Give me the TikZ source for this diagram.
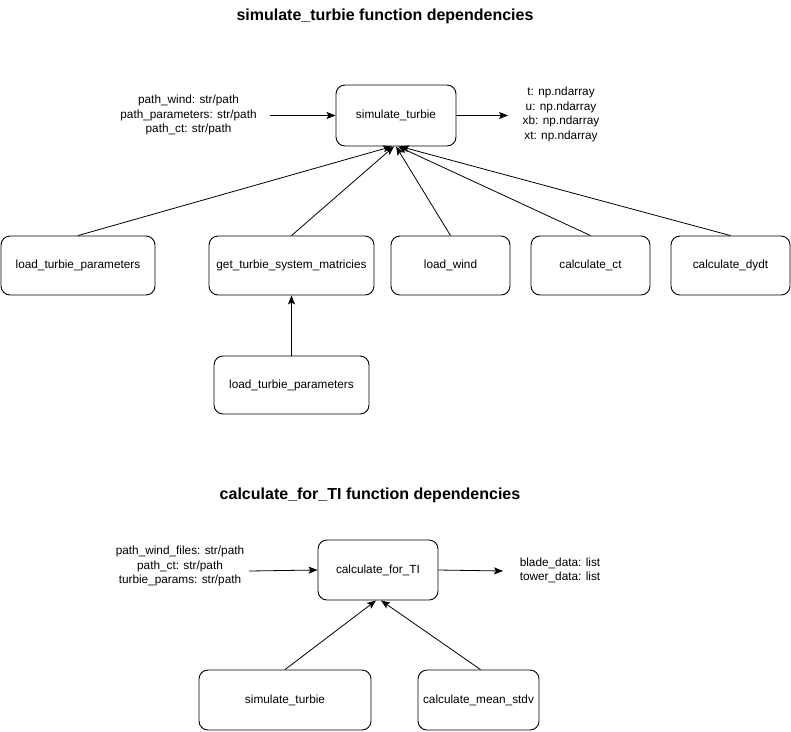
\documentclass[tikz,border=0pt]{standalone}
\usepackage{fontspec}
\setmainfont{Liberation Sans}
\usetikzlibrary{arrows.meta,calc}
\begin{document}
\begin{tikzpicture}[x=1pt,y=-1pt,
  box/.style={draw, rounded corners=9pt, line width=0.9pt, inner sep=0pt, font=\fontsize{11.8}{14.5}\selectfont},
  lbl/.style={align=center, inner sep=0pt, font=\fontsize{11.8}{14.5}\selectfont},
  ttl/.style={inner sep=0pt, font=\fontsize{16}{18}\selectfont\bfseries},
  arr/.style={line width=0.8pt, -{Stealth[length=9pt,width=7pt,inset=2pt]}}]
\useasboundingbox (0,0) rectangle (791,731);
% titles
\node[ttl] (t1) at (385,16) {simulate\_turbie function dependencies};
\node[ttl] (t2) at (370,495) {calculate\_for\_TI function dependencies};
% top diagram
\node[box, minimum width=120pt, minimum height=61pt] (sim) at (396,115.5) {simulate\_turbie};
\node[lbl] (in1) at (188.5,115) {path\_wind: str/path\\path\_parameters: str/path\\path\_ct: str/path};
\node[lbl] (out1) at (561,114.5) {t: np.ndarray\\u: np.ndarray\\xb: np.ndarray\\xt: np.ndarray};
\coordinate (in1e) at (270,115.5);
\coordinate (out1e) at (508,115.5);
\draw[arr] (in1e) -- (sim.west);
\draw[arr] (sim.east) -- (out1e);

\node[box, minimum width=154pt, minimum height=59pt] (ltp) at (78,265.5) {load\_turbie\_parameters};
\node[box, minimum width=165pt, minimum height=59pt] (gts) at (291.5,265.5) {get\_turbie\_system\_matricies};
\node[box, minimum width=119pt, minimum height=59pt] (lw) at (450.5,265.5) {load\_wind};
\node[box, minimum width=119pt, minimum height=59pt] (cct) at (590.5,265.5) {calculate\_ct};
\node[box, minimum width=119pt, minimum height=59pt] (cdy) at (730.5,265.5) {calculate\_dydt};
\node[box, minimum width=155pt, minimum height=58pt] (ltp2) at (291.5,385) {load\_turbie\_parameters};

\draw[arr] (ltp.north) -- ($(sim.south)+(-4,0)$);
\draw[arr] (gts.north) -- ($(sim.south)+(-2,0)$);
\draw[arr] (lw.north) -- ($(sim.south)+(0,0)$);
\draw[arr] (cct.north) -- ($(sim.south)+(2,0)$);
\draw[arr] (cdy.north) -- ($(sim.south)+(4,0)$);
\draw[arr] (ltp2.north) -- (gts.south);

% bottom diagram
\node[box, minimum width=120pt, minimum height=60pt] (cft) at (378,570) {calculate\_for\_TI};
\node[lbl] (in2) at (180,566) {path\_wind\_files: str/path\\path\_ct: str/path\\turbie\_params: str/path};
\node[lbl] (out2) at (560,570.5) {blade\_data: list\\tower\_data: list};
\coordinate (in2e) at (249,571);
\coordinate (out2e) at (503,571);
\draw[arr] (in2e) -- (cft.west);
\draw[arr] (cft.east) -- (out2e);

\node[box, minimum width=172pt, minimum height=60pt] (sim2) at (285,700) {simulate\_turbie};
\node[box, minimum width=121pt, minimum height=60pt] (cms) at (478.5,700) {calculate\_mean\_stdv};
\draw[arr] (sim2.north) -- ($(cft.south)+(-2,0)$);
\draw[arr] ($(cms.north)+(2,0)$) -- ($(cft.south)+(3,0)$);
\end{tikzpicture}
\end{document}
